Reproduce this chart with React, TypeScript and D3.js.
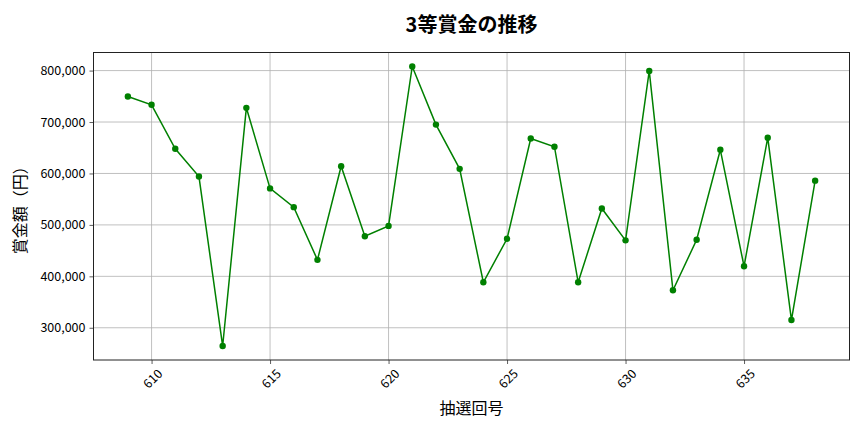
import React, { useEffect, useRef } from 'react';
import * as d3 from 'd3';

// 抽選回号
const draws = [
  609, 610, 611, 612, 613, 614, 615, 616, 617, 618, 619, 620, 621, 622, 623,
  624, 625, 626, 627, 628, 629, 630, 631, 632, 633, 634, 635, 636, 637, 638,
];

// 3等賞金 (円)
const prizes = [
  749600, 733500, 648000, 594000, 264500, 727600, 571000, 534500, 432000, 614000,
  478000, 498000, 808000, 695000, 609000, 388500, 473000, 668000, 652000, 388500,
  532000, 470000, 799400, 373000, 471000, 646000, 419500, 669500, 315000, 586000,
];

const xTicks = [610, 615, 620, 625, 630, 635];
const yTicks = [300000, 400000, 500000, 600000, 700000, 800000];

const title = '3等賞金の推移';
const xLabel = '抽選回号';
const yLabel = '賞金額（円）';

const FONT = '"Noto Sans CJK JP", "Noto Sans", sans-serif';

const App: React.FC = () => {
  const svgRef = useRef<SVGSVGElement>(null);
  const width = 864;
  const height = 432;

  useEffect(() => {
    if (!svgRef.current) return;
    document.body.style.margin = '0';

    const svg = d3.select(svgRef.current);
    svg.selectAll('*').remove();

    const margin = { top: 52.5, right: 14.5, bottom: 72, left: 93.5 };
    const innerWidth = width - margin.left - margin.right;
    const innerHeight = height - margin.top - margin.bottom;

    // matplotlib style 5% margins
    const xMin = d3.min(draws) as number;
    const xMax = d3.max(draws) as number;
    const xPad = (xMax - xMin) * 0.05;
    const yMin = d3.min(prizes) as number;
    const yMax = d3.max(prizes) as number;
    const yPad = (yMax - yMin) * 0.05;

    const xScale = d3
      .scaleLinear()
      .domain([xMin - xPad, xMax + xPad])
      .range([0, innerWidth]);

    const yScale = d3
      .scaleLinear()
      .domain([yMin - yPad, yMax + yPad])
      .range([innerHeight, 0]);

    svg
      .append('rect')
      .attr('width', width)
      .attr('height', height)
      .attr('fill', '#ffffff');

    const g = svg
      .append('g')
      .attr('transform', `translate(${margin.left},${margin.top})`);

    // Grid
    const grid = g.append('g').attr('class', 'grid');
    grid
      .selectAll('.grid-x')
      .data(xTicks)
      .join('line')
      .attr('x1', (d) => xScale(d))
      .attr('x2', (d) => xScale(d))
      .attr('y1', 0)
      .attr('y2', innerHeight)
      .attr('stroke', '#b0b0b0')
      .attr('stroke-width', 0.8);
    grid
      .selectAll('.grid-y')
      .data(yTicks)
      .join('line')
      .attr('x1', 0)
      .attr('x2', innerWidth)
      .attr('y1', (d) => yScale(d))
      .attr('y2', (d) => yScale(d))
      .attr('stroke', '#b0b0b0')
      .attr('stroke-width', 0.8);

    // Y axis
    const yAxis = d3
      .axisLeft(yScale)
      .tickValues(yTicks)
      .tickSize(4)
      .tickPadding(4)
      .tickFormat((d) => d3.format(',')(d as number));

    const yAxisG = g.append('g').attr('class', 'y-axis').call(yAxis);
    yAxisG.select('.domain').remove();
    yAxisG.selectAll('.tick line').attr('stroke', '#333').attr('stroke-width', 0.8);
    yAxisG
      .selectAll('text')
      .attr('fill', '#000')
      .attr('font-size', '12.5px')
      .attr('font-family', FONT);

    // X axis
    const xAxis = d3
      .axisBottom(xScale)
      .tickValues(xTicks)
      .tickSize(4)
      .tickFormat((d) => String(d));

    const xAxisG = g
      .append('g')
      .attr('class', 'x-axis')
      .attr('transform', `translate(0,${innerHeight})`)
      .call(xAxis);
    xAxisG.select('.domain').remove();
    xAxisG.selectAll('.tick line').attr('stroke', '#333').attr('stroke-width', 0.8);
    xAxisG
      .selectAll('text')
      .attr('fill', '#000')
      .attr('font-size', '12.5px')
      .attr('font-family', FONT)
      .attr('text-anchor', 'middle')
      .attr('dominant-baseline', 'central')
      .attr('y', 0)
      .attr('dy', 0)
      .attr('transform', 'translate(0,18) rotate(-45)');

    // Frame
    g.append('rect')
      .attr('x', 0)
      .attr('y', 0)
      .attr('width', innerWidth)
      .attr('height', innerHeight)
      .attr('fill', 'none')
      .attr('stroke', '#222')
      .attr('stroke-width', 1);

    // Line
    const line = d3
      .line<number>()
      .x((_, i) => xScale(draws[i]))
      .y((d) => yScale(d));

    g.append('path')
      .datum(prizes)
      .attr('d', line)
      .attr('fill', 'none')
      .attr('stroke', '#008000')
      .attr('stroke-width', 1.5);

    g.append('g')
      .selectAll('circle')
      .data(prizes)
      .join('circle')
      .attr('cx', (_, i) => xScale(draws[i]))
      .attr('cy', (d) => yScale(d))
      .attr('r', 3.2)
      .attr('fill', '#008000');

    // Title and labels
    svg
      .append('text')
      .attr('x', margin.left + innerWidth / 2)
      .attr('y', 32)
      .attr('text-anchor', 'middle')
      .attr('font-family', FONT)
      .attr('font-size', '20px')
      .attr('font-weight', 'bold')
      .attr('fill', '#000')
      .text(title);

    svg
      .append('text')
      .attr('x', margin.left + innerWidth / 2)
      .attr('y', 414)
      .attr('text-anchor', 'middle')
      .attr('font-family', FONT)
      .attr('font-size', '16px')
      .attr('fill', '#000')
      .text(xLabel);

    svg
      .append('text')
      .attr('transform', `translate(26,${margin.top + innerHeight / 2}) rotate(-90)`)
      .attr('text-anchor', 'middle')
      .attr('font-family', FONT)
      .attr('font-size', '16px')
      .attr('fill', '#000')
      .text(yLabel);
  }, []);

  return (
    <svg
      ref={svgRef}
      width={width}
      height={height}
      style={{ display: 'block', position: 'absolute', left: 0, top: 0 }}
    />
  );
};

export default App;
